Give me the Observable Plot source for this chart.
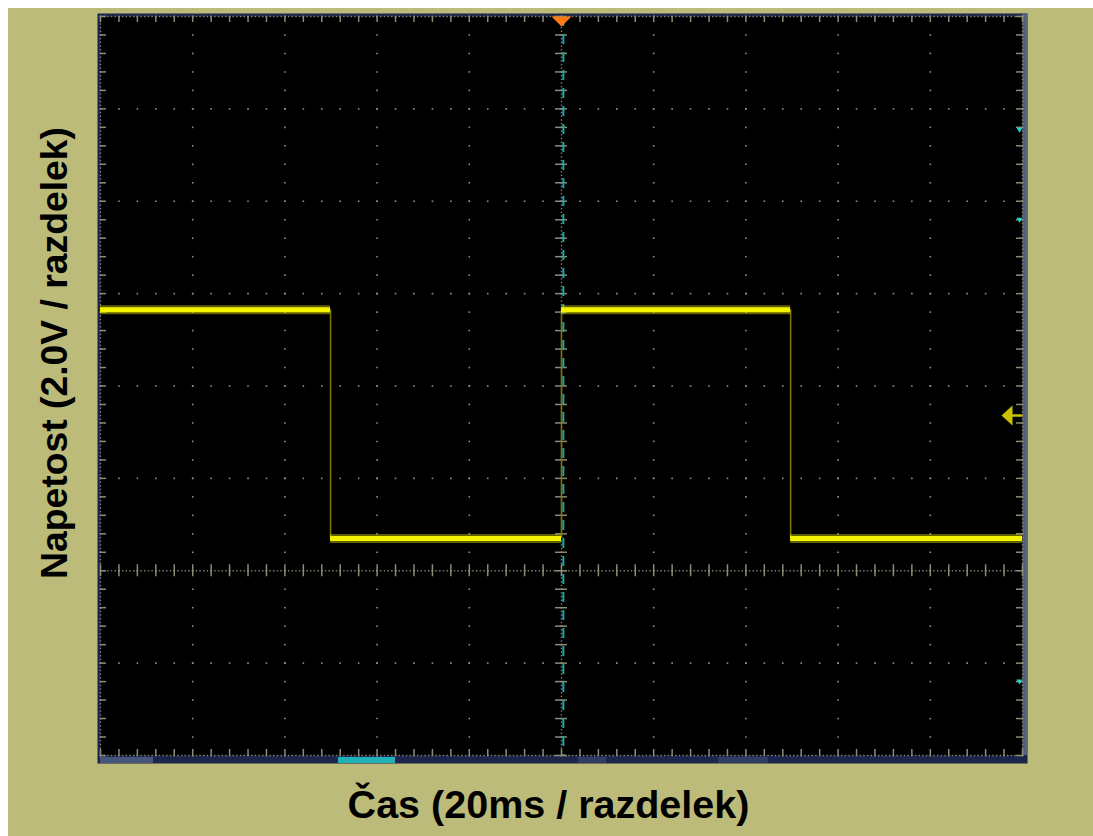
<!DOCTYPE html>
<html>
<head>
<meta charset="utf-8">
<script src="https://cdn.jsdelivr.net/npm/d3@7"></script>
<script src="https://cdn.jsdelivr.net/npm/@observablehq/plot@0.6"></script>
<style>
  html, body { margin: 0; padding: 0; background: #ffffff; overflow: hidden; }
  #chart { position: absolute; left: 8px; top: 8px; }
</style>
</head>
<body>
<div id="chart"></div>
<script>
const xLabel = "Čas (20ms / razdelek)";
const yLabel = "Napetost (2.0V / razdelek)";
const msPerDiv = 20;          // 20 ms / division, 10 divisions
const voltPerDiv = 2.0;       // 2.0 V / division, 8 divisions
const timeEdgesMs = [-100, -50.1, 0, 49.7, 100];   // square-wave edges
const levelsV = [2.29, -2.66, 2.29, -2.66];        // level of each segment
const cursorMs = [0.4];                            // cyan cursor line
const triggerMs = [0];                             // orange trigger marker
const groundV = [0];                               // channel ground arrow
const sideMarkersV = [6.19, 4.24, -5.76];          // small cyan marks on right edge
const barSegmentsMs = [[-100, -88.5, "#46557a"], [-48.4, -36.0, "#1fb0b8"], [3.7, 9.8, "#2d3d63"], [34.1, 44.9, "#2d3d63"]];

// ---- screen geometry ----
const xDomain = [-5 * msPerDiv, 5 * msPerDiv];
const yTop = 8.64, yBottom = yTop - 8 * voltPerDiv;

const xs = (step) => d3.range(0, Math.round((xDomain[1] - xDomain[0]) / step) + 1).map(i => xDomain[0] + i * step);
const ys = (step) => d3.range(0, Math.round((yTop - yBottom) / step) + 1).map(i => yTop - i * step);

const majorX = xs(msPerDiv);
const majorY = ys(voltPerDiv);
const centerX = 0;
const centerY = majorY[6];

const gridDots = [];
for (const x of majorX) for (const y of ys(voltPerDiv / 5)) gridDots.push({x, y});
for (const y of majorY) for (const x of xs(msPerDiv / 5)) gridDots.push({x, y});
const denseDots = [];
for (const x of [xDomain[0], centerX, xDomain[1]]) for (const y of ys(voltPerDiv / 25)) denseDots.push({x, y});
for (const y of [yTop, centerY, yBottom]) for (const x of xs(msPerDiv / 25)) denseDots.push({x, y});

const minorXs = xs(msPerDiv / 5);
const minorYs = ys(voltPerDiv / 5);

const segments = levelsV.map((v, i) => ({x1: timeEdgesMs[i], x2: timeEdgesMs[i + 1], y: v}));
const transitions = levelsV.slice(1).map((v, i) => ({x: timeEdgesMs[i + 1], y1: levelsV[i], y2: v}));

const trigSymbol = { draw(ctx) { ctx.moveTo(-10, 0); ctx.lineTo(10, 0); ctx.lineTo(0, 10); ctx.closePath(); } };
const groundSymbol = { draw(ctx) {
  ctx.moveTo(-21, 0); ctx.lineTo(-10, -10); ctx.lineTo(-10, -1.2); ctx.lineTo(0, -1.2);
  ctx.lineTo(0, 1.2); ctx.lineTo(-10, 1.2); ctx.lineTo(-10, 10); ctx.closePath(); } };
const sideSymbol = { draw(ctx) { ctx.moveTo(-3, -2); ctx.lineTo(3, -2); ctx.lineTo(0, 3); ctx.closePath(); } };

const tickPx = 6;
const dxTick = tickPx / 922 * 200, dyTick = tickPx / 739 * 16;
const font = "Liberation Sans, Arial, sans-serif";

const chart = Plot.plot({
  width: 1085, height: 828,
  marginLeft: 92, marginRight: 71, marginTop: 8, marginBottom: 81,
  x: {domain: xDomain, axis: null},
  y: {domain: [yBottom, yTop], axis: null},
  style: {background: "#bdbb79", overflow: "visible"},
  marks: [
    Plot.frame({fill: "#1d2449", insetTop: -3, insetLeft: -3, insetRight: -5, insetBottom: -8}),
    Plot.rect([0], {x1: xDomain[1], x2: xDomain[1] + 5 / 922 * 200, y1: yBottom, y2: yTop + 3 / 739 * 16, fill: "#56627a"}),
    Plot.rect(barSegmentsMs, {x1: d => d[0], x2: d => d[1], y1: yBottom - 2 / 739 * 16, y2: yBottom - 8 / 739 * 16, fill: d => d[2]}),
    Plot.frame({fill: "black"}),
    // grid
    Plot.dot(gridDots, {x: "x", y: "y", symbol: "square", r: 0.9, fill: "#929278"}),
    Plot.dot(denseDots, {x: "x", y: "y", symbol: "square", r: 0.75, fill: "#8c8c74"}),
    Plot.ruleX(minorXs, {x: d => d, y1: centerY - dyTick, y2: centerY + dyTick, stroke: "#8c8c74", strokeWidth: 1.5}),
    Plot.ruleY(minorYs, {y: d => d, x1: centerX - dxTick, x2: centerX + dxTick, stroke: "#8c8c74", strokeWidth: 1.5}),
    Plot.ruleX(minorXs, {x: d => d, y1: yTop, y2: yTop - dyTick, stroke: "#8c8c74", strokeWidth: 1.5}),
    Plot.ruleX(minorXs, {x: d => d, y1: yBottom, y2: yBottom + dyTick, stroke: "#8c8c74", strokeWidth: 1.5}),
    Plot.ruleY(minorYs, {y: d => d, x1: xDomain[0], x2: xDomain[0] + dxTick, stroke: "#8c8c74", strokeWidth: 1.5}),
    Plot.ruleY(minorYs, {y: d => d, x1: xDomain[1], x2: xDomain[1] - dxTick, stroke: "#8c8c74", strokeWidth: 1.5}),
    // cursor
    Plot.ruleX(cursorMs, {x: d => d, stroke: "#1aa8a8", strokeWidth: 2, strokeDasharray: "10 8"}),
    // signal
    Plot.ruleX(transitions, {x: "x", y1: "y1", y2: "y2", stroke: "#7a7400", strokeWidth: 1.6}),
    Plot.ruleY(segments, {y: "y", x1: "x1", x2: "x2", stroke: "#d8d600", strokeWidth: 9, strokeOpacity: 0.45}),
    Plot.ruleY(segments, {y: "y", x1: "x1", x2: "x2", stroke: "#f4f300", strokeWidth: 5}),
    // markers
    Plot.dot(triggerMs, {x: d => d, y: yTop, symbol: trigSymbol, fill: "#ff7a14", stroke: "none"}),
    Plot.dot(groundV, {x: xDomain[1], y: d => d, symbol: groundSymbol, fill: "#c8c200", stroke: "none"}),
    Plot.dot(sideMarkersV, {x: xDomain[1] - 3 / 922 * 200, y: d => d, symbol: sideSymbol, fill: "#22d2d2", stroke: "none"}),
    // labels
    Plot.text([xLabel], {text: d => d, frameAnchor: "bottom", textAnchor: "middle", dx: -13, dy: 50, lineAnchor: "middle",
      fontSize: 39.5, fontWeight: "bold", fill: "black", fontFamily: font}),
    Plot.text([yLabel], {text: d => d, frameAnchor: "left", textAnchor: "middle", rotate: -90, dx: -45, dy: -33, lineAnchor: "middle",
      fontSize: 37.3, fontWeight: "bold", fill: "black", fontFamily: font})
  ]
});
document.getElementById("chart").append(chart);
</script>
</body>
</html>
